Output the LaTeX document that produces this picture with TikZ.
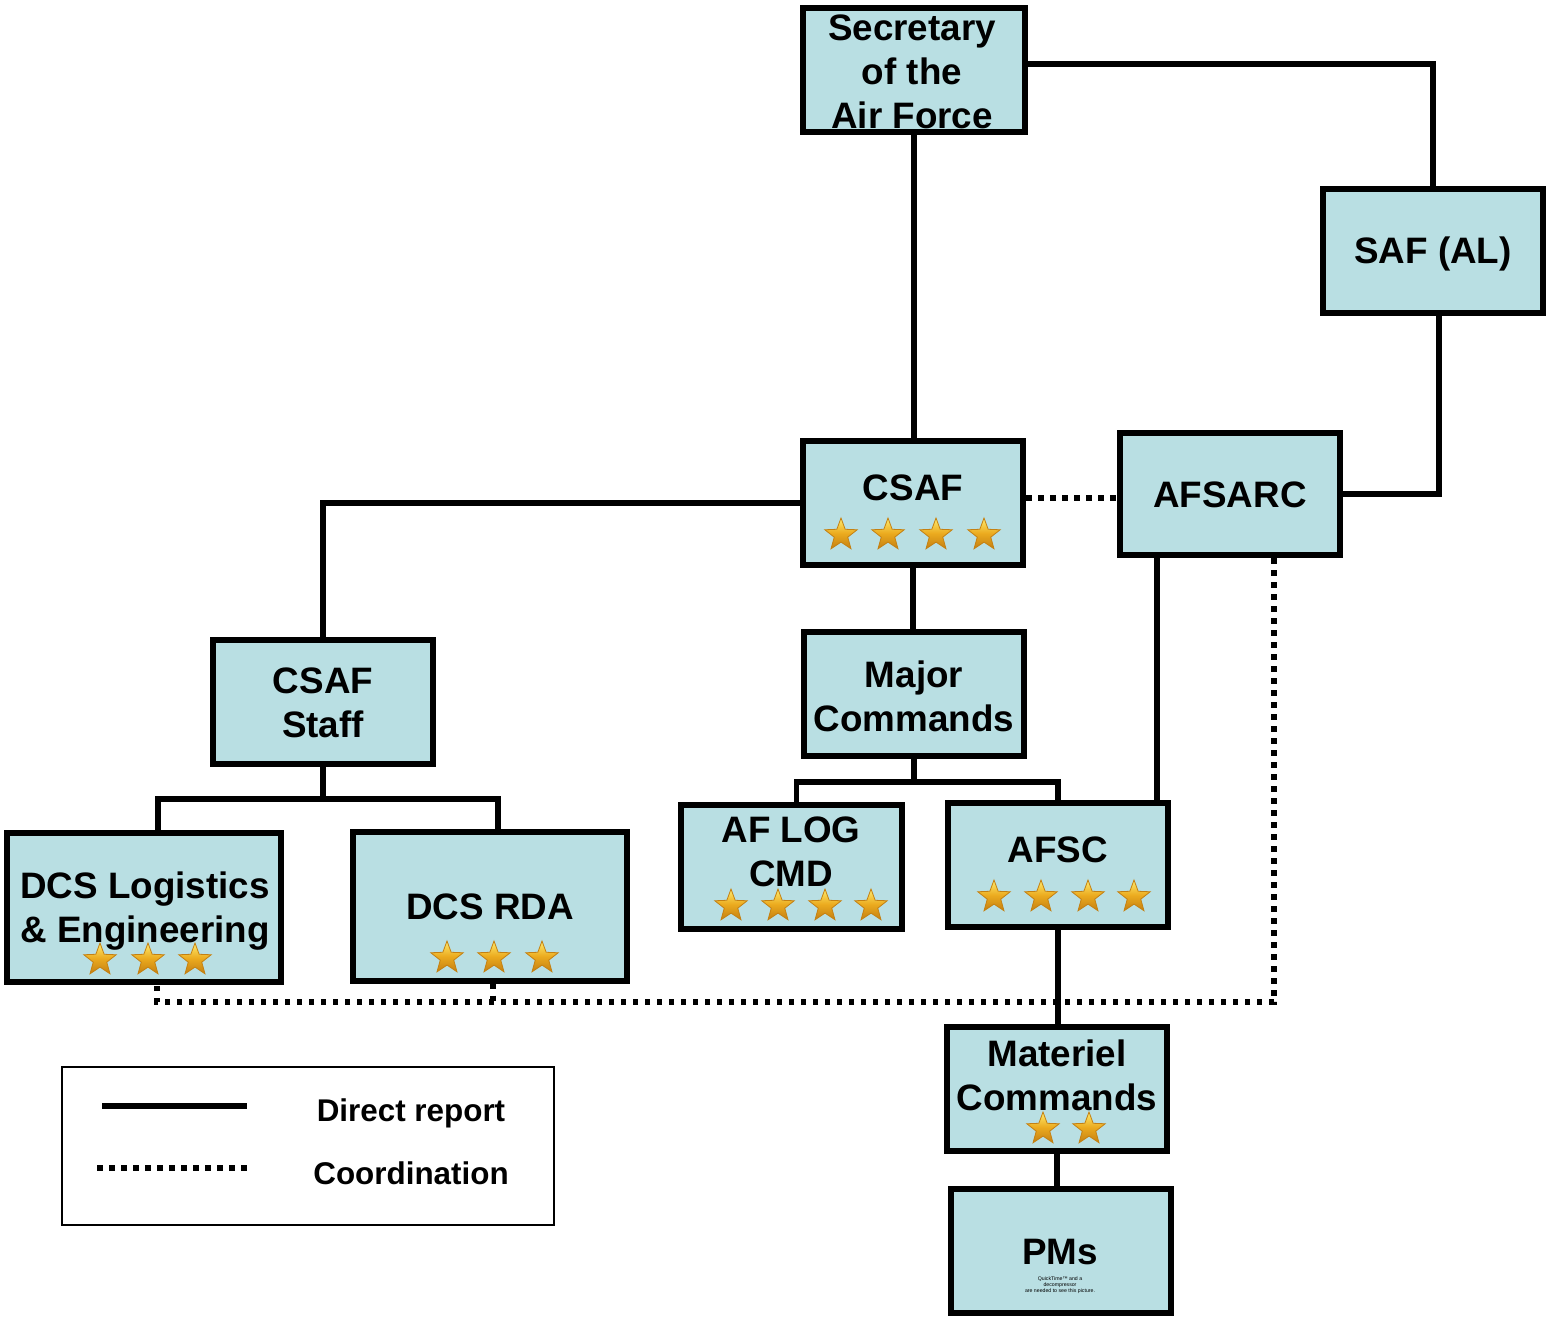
\documentclass[tikz,border=0pt]{standalone}
\usepackage{fontspec}
\setmainfont{Liberation Sans}
\usetikzlibrary{shapes.geometric,calc}
\definecolor{boxblue}{RGB}{185,223,227}
\definecolor{stardark}{RGB}{196,128,18}
\definecolor{starlight}{RGB}{255,236,110}
\definecolor{starmid}{RGB}{235,170,30}
\newcommand\bigf{\fontsize{18.4}{22}\selectfont\bfseries}
\newcommand\legf{\fontsize{15.7}{19}\selectfont\bfseries}
\begin{document}
\begin{tikzpicture}[x=0.5pt,y=-0.5pt,
  box/.style={draw, line width=3pt, fill=boxblue, inner sep=0pt, minimum width=110pt, minimum height=62pt},
  wbox/.style={box, minimum width=137pt, minimum height=74.5pt},
  lbl/.style={font=\bigf, align=center, inner sep=0pt},
  conn/.style={line width=2.75pt},
  coord/.style={line width=2.75pt, dash pattern=on 2.75pt off 3.25pt},
  gstar/.style={star, star points=5, star point ratio=2.4, minimum size=17pt, inner sep=0pt,
    top color=starlight, bottom color=stardark, middle color=starmid, draw=stardark, line width=0.4pt}]
\useasboundingbox (0,0) rectangle (1548,1324);
% boxes
\node[box, minimum width=111pt] (sec) at (914,70) {};
\node[box] (saf) at (1433,251) {};
\node[box] (csaf) at (913,503) {};
\node[box, minimum height=61pt] (afsarc) at (1230,494) {};
\node[box] (staff) at (323,702) {};
\node[box] (major) at (914,694) {};
\node[wbox] (dcslog) at (144,907.5) {};
\node[wbox] (rda) at (490,906) {};
\node[box, minimum width=110.5pt] (aflog) at (791.5,867) {};
\node[box] (afsc) at (1058,865) {};
\node[box] (materiel) at (1057,1089) {};
\node[box] (pms) at (1061,1251) {};
% texts
\node[lbl] (tsec) at (912,72) {Secretary\\of the\\Air Force};
\node[lbl] (tsaf) at (1433,254) {SAF (AL)};
\node[lbl] (tcsaf) at (913,488) {CSAF};
\node[lbl] (tafsarc) at (1230,495) {AFSARC};
\node[lbl] (tstaff) at (323,703) {CSAF\\Staff};
\node[lbl] (tmajor) at (914,696) {Major\\Commands};
\node[lbl] (tdcslog) at (145,911) {DCS Logistics\\\& Engineering};
\node[lbl] (trda) at (490,907) {DCS RDA};
\node[lbl] (taflog) at (791,852) {AF LOG\\CMD};
\node[lbl] (tafsc) at (1058,850) {AFSC};
\node[lbl] (tmateriel) at (1057,1075) {Materiel\\Commands};
\node[lbl] (tpms) at (1060,1252) {PMs};
\node[font=\fontsize{2.6}{3}\selectfont, align=center, inner sep=0pt] (tqt) at (1060,1285) {QuickTime™ and a\\decompressor\\are needed to see this picture.};
% stars
\foreach \x [count=\i] in {841,888,936,984} \node[gstar] (s-csaf-\i) at (\x,535) {};
\foreach \x [count=\i] in {100,148,195} \node[gstar] (s-log-\i) at (\x,960) {};
\foreach \x [count=\i] in {447,494,542} \node[gstar] (s-rda-\i) at (\x,958) {};
\foreach \x [count=\i] in {731,778,825,871} \node[gstar] (s-aflog-\i) at (\x,906) {};
\foreach \x [count=\i] in {994,1041,1088,1134} \node[gstar] (s-afsc-\i) at (\x,897) {};
\foreach \x [count=\i] in {1043,1089} \node[gstar] (s-mat-\i) at (\x,1129) {};
% direct connectors
\draw[conn] ([yshift=3pt]sec.east) -- ([yshift=3pt]sec.east -| saf.north) -- (saf.north);
\draw[conn] (sec.south) -- (sec.south |- csaf.north);
\draw[conn] ([xshift=3pt]saf.south) -- ([xshift=3pt]saf.south |- afsarc.east) -- (afsarc.east);
\draw[conn] (csaf.west) -- (csaf.west -| staff.north) -- (staff.north);
\draw[conn] (csaf.south) -- (csaf.south |- major.north);
\coordinate (mj) at ([yshift=-11.5pt]major.south);
\draw[conn] (major.south) -- (mj);
\draw[conn] ([xshift=2.5pt]aflog.north) |- (mj) -| (afsc.north);
\draw[conn] ([xshift=-36.5pt]afsarc.south) -- ([xshift=-36.5pt]afsarc.south |- afsc.north);
\coordinate (st) at ([yshift=-16pt]staff.south);
\draw[conn] (staff.south) -- (st);
\draw[conn] ([xshift=7pt]dcslog.north) |- (st) -| ([xshift=4pt]rda.north);
\draw[conn] (afsc.south) -- (afsc.south |- materiel.north);
\draw[conn] (materiel.south) -- (materiel.south |- pms.north);
% coordination
\draw[coord] ([yshift=2.5pt]csaf.east) -- ([yshift=2.5pt]csaf.east -| afsarc.west);
\coordinate (cc) at ([yshift=-8.5pt]dcslog.south);
\draw[coord] ([xshift=22pt]afsarc.south) -- ([xshift=22pt]afsarc.south |- cc) -- ([xshift=6.5pt]dcslog.south |- cc) -- ([xshift=6.5pt]dcslog.south);
\draw[coord] ([xshift=1.5pt]rda.south) -- ([xshift=1.5pt]rda.south |- cc);
% legend
\node[draw, line width=1pt, minimum width=246pt, minimum height=79pt, inner sep=0pt] (legend) at (308,1146) {};
\coordinate (l1a) at (102,1106);
\coordinate (l1b) at (247,1106);
\coordinate (l2a) at (97,1168);
\coordinate (l2b) at (248,1168);
\draw[conn] (l1a) -- (l1b);
\draw[coord] (l2a) -- (l2b);
\node[font=\legf, inner sep=0pt] (tdirect) at (411,1113) {Direct report};
\node[font=\legf, inner sep=0pt] (tcoord) at (411,1173) {Coordination};
\end{tikzpicture}
\end{document}
